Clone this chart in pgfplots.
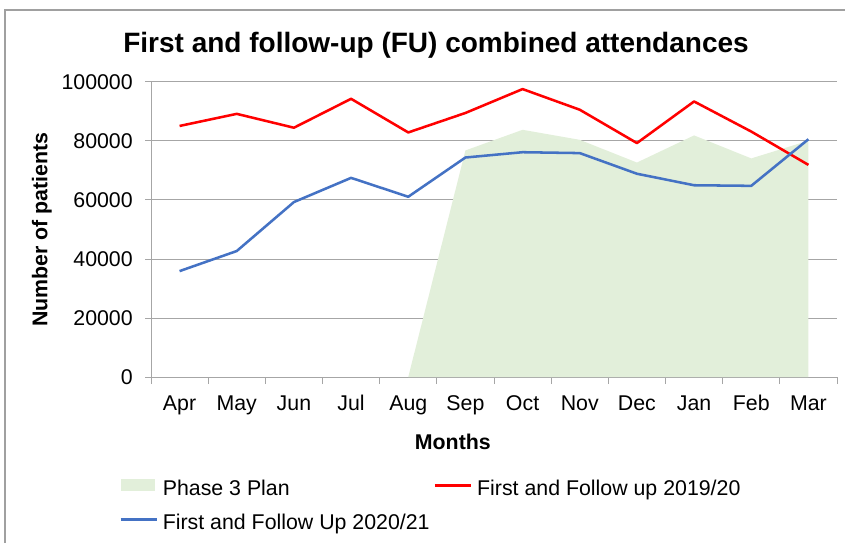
\documentclass[border=0pt]{standalone}
\usepackage{fontspec}
\setmainfont{Liberation Sans}
\usepackage{pgfplots}
\pgfplotsset{compat=1.18}
\definecolor{planfill}{RGB}{226,239,218}
\definecolor{redline}{RGB}{255,0,0}
\definecolor{blueline}{RGB}{68,114,196}
\definecolor{gridgray}{RGB}{166,166,166}
\definecolor{framegray}{RGB}{160,160,160}
\begin{document}
\begin{tikzpicture}
% page frame: 845 x 543 px at 0.75pt per px
\path[use as bounding box] (0pt,0pt) rectangle (633.75pt,407.25pt);
\draw[framegray, line width=1pt] (3.75pt,0pt) -- (3.75pt,399.75pt) -- (633.75pt,399.75pt);
\node[font=\fontsize{21}{25}\selectfont\bfseries] at (327pt,373.5pt)
  {First and follow-up (FU) combined attendances};
\begin{axis}[
  at={(113.25pt,124.5pt)}, anchor=south west,
  width=514.5pt, height=221.25pt, scale only axis,
  xmin=-0.5, xmax=11.5, ymin=0, ymax=100000,
  axis x line*=bottom, axis y line*=left,
  axis line style={gridgray, line width=0.75pt},
  xtick={0,...,11},
  xticklabels={Apr,May,Jun,Jul,Aug,Sep,Oct,Nov,Dec,Jan,Feb,Mar},
  minor xtick={-0.5,0.5,...,11.5},
  major x tick style={draw=none},
  minor x tick style={gridgray, line width=0.75pt},
  minor tick length=5.25pt,
  ytick={0,20000,...,100000},
  major tick length=4.5pt,
  y tick style={gridgray, line width=0.75pt},
  tick align=outside,
  ymajorgrids, grid style={gridgray, line width=0.75pt},
  scaled y ticks=false,
  /pgf/number format/fixed,
  /pgf/number format/1000 sep={},
  /pgf/number format/assume math mode=true,
  tick label style={font=\fontsize{16}{19}\selectfont},
  xticklabel style={anchor=base, yshift=-20.5pt},
  yticklabel style={anchor=east, inner sep=0pt, xshift=-9pt},
  label style={font=\fontsize{16}{19}\selectfont\bfseries},
  xlabel={Months},
  xlabel style={at={(axis description cs:0.44,-0.22)}, anchor=center},
  ylabel={Number of patients},
  ylabel style={at={(axis description cs:-0.159,0.5)}, anchor=center},
  legend style={at={(axis description cs:-0.0466,-0.3458)}, anchor=north west,
    draw=none, fill=none, inner sep=0pt, legend columns=2,
    font=\fontsize{16}{19}\selectfont,
    nodes={inner sep=0pt, text height=11.5pt, text depth=3.5pt},
    row sep=10.5pt,
    /tikz/every odd column/.append style={column sep=3.75pt},
    /tikz/every even column/.append style={column sep=3pt}},
  legend cell align=left,
  legend image code/.code={\draw[#1, line cap=butt] (0pt,4pt) -- (27pt,4pt);},
]
\addplot[fill=planfill, draw=none,
  legend image code/.code={\fill[planfill] (0pt,-0.5pt) rectangle (26pt,8.5pt);}]
  coordinates {(4,0) (5,76800) (6,83800) (7,80400) (8,72700) (9,81900) (10,74100) (11,80100)}
  \closedcycle;
\addlegendentry{Phase 3 Plan}
\addplot[redline, line width=1.9pt, line join=round]
  coordinates {(0,85100) (1,89200) (2,84500) (3,94300) (4,82900) (5,89500)
               (6,97600) (7,90600) (8,79300) (9,93400) (10,83200) (11,71900)};
\addlegendentry{First and Follow up 2019/20}
\addplot[blueline, line width=1.9pt, line join=round]
  coordinates {(0,35900) (1,42700) (2,59300) (3,67500) (4,61100) (5,74400)
               (6,76200) (7,75900) (8,68900) (9,65000) (10,64800) (11,80600)};
\addlegendentry{First and Follow Up 2020/21}
\end{axis}
\end{tikzpicture}
\end{document}
